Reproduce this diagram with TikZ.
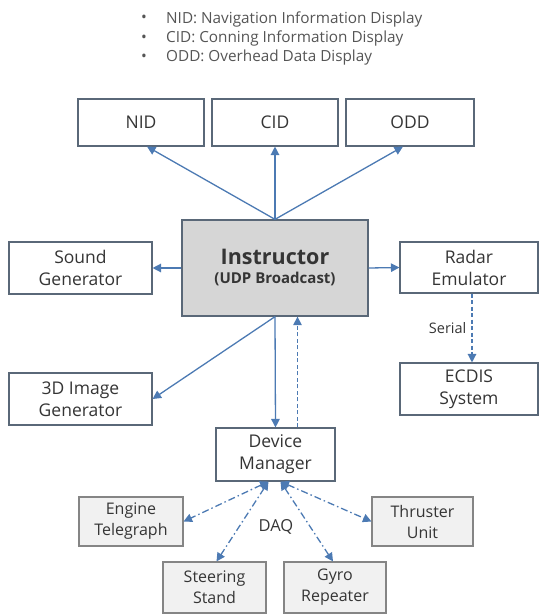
\documentclass[tikz,border=0pt]{standalone}
\usepackage{fontspec}
\setmainfont{Open Sans}
\usetikzlibrary{arrows.meta,calc}

\definecolor{edge}{HTML}{5A6878}
\definecolor{link}{HTML}{4C7AB3}
\definecolor{ink}{HTML}{353535}
\definecolor{note}{HTML}{555555}
\definecolor{hub}{HTML}{D6D6D6}
\definecolor{dev}{HTML}{F1F1F1}
\definecolor{devedge}{HTML}{858585}

\tikzset{
  unit/.style={draw=edge, line width=1.1pt, fill=white, text=ink, align=center,
    inner sep=0pt, font=\fontsize{17.5}{22}\selectfont},
  hubbox/.style={unit, fill=hub, line width=1.3pt},
  devbox/.style={unit, fill=dev, draw=devedge, font=\fontsize{16}{21}\selectfont},
  flow/.style={draw=link, line width=1.3pt, -{Triangle[length=8.5pt,width=8.5pt]}},
  serialflow/.style={flow, dashed, dash pattern=on 4pt off 2.5pt},
  daq/.style={draw=link, line width=1.3pt, {Triangle[length=8.5pt,width=8.5pt]}-{Triangle[length=8.5pt,width=8.5pt]},
    dash pattern=on 7pt off 3pt on 1.5pt off 3pt},
  legend/.style={anchor=west, text=note, inner sep=0pt, font=\fontsize{15.3}{17}\selectfont},
  lbl/.style={text=ink, inner sep=0pt}
}

\begin{document}
\begin{tikzpicture}[x=1pt, y=-1pt]
\useasboundingbox (0,0) rectangle (539,614);

% abbreviations
\node[legend] (b1) at (141,19) {•};
\node[legend] (b2) at (141,38.5) {•};
\node[legend] (b3) at (141,58) {•};
\node[legend] (l1) at (166,19) {NID: Navigation Information Display};
\node[legend] (l2) at (166,38.5) {CID: Conning Information Display};
\node[legend] (l3) at (166,58) {ODD: Overhead Data Display};

% display units
\node[unit, minimum width=126, minimum height=47] (NID) at (141,122.5) {NID};
\node[unit, minimum width=126, minimum height=47] (CID) at (275,122.5) {CID};
\node[unit, minimum width=128, minimum height=47] (ODD) at (410,122.5) {ODD};

% central station
\node[hubbox, minimum width=186, minimum height=96] (Instr) at (275,268)
  {{\fontsize{21.5}{25}\selectfont\bfseries Instructor}\\[-3pt]{\fontsize{15}{18}\selectfont\bfseries (UDP Broadcast)}};

% side units
\node[unit, minimum width=143, minimum height=52] (Sound) at (80.5,268) {Sound\\Generator};
\node[unit, minimum width=138, minimum height=51] (Radar) at (469,267.5) {Radar\\Emulator};
\node[unit, minimum width=138, minimum height=52] (ECDIS) at (469,389) {ECDIS\\System};
\node[unit, minimum width=143, minimum height=52] (Img) at (80.5,399) {3D Image\\Generator};
\node[unit, minimum width=119, minimum height=53] (DM) at (275.5,454.5) {Device\\Manager};

% bridge hardware
\node[devbox, minimum width=104, minimum height=49] (Eng) at (131,521.5) {Engine\\Telegraph};
\node[devbox, minimum width=101, minimum height=49] (Thr) at (422.5,521.5) {Thruster\\Unit};
\node[devbox, minimum width=103, minimum height=51] (Steer) at (214.5,587.5) {Steering\\Stand};
\node[devbox, minimum width=102, minimum height=51] (Gyro) at (335,587.5) {Gyro\\Repeater};

% broadcast links
\draw[flow] (Instr.north) -- ([xshift=6pt]NID.south);
\draw[flow] (Instr.north) -- (CID.south);
\draw[flow] (Instr.north) -- ([xshift=-7pt]ODD.south);
\draw[flow] (Instr.west) -- (Sound.east);
\draw[flow] (Instr.east) -- (Radar.west);
\draw[flow] (Instr.south) -- (Img.east);
\draw[flow] (Instr.south) -- (DM.north);
\draw[serialflow] ([xshift=22pt]DM.north) -- ([xshift=22pt]DM.north |- Instr.south);
\draw[serialflow] ([xshift=3pt]Radar.south) -- node[lbl, left=5pt, font=\fontsize{14.5}{16}\selectfont] (ser) {Serial} ([xshift=3pt]ECDIS.north);

% data acquisition links
\coordinate (dl) at ([xshift=-7pt]DM.south);
\coordinate (dr) at ([xshift=5pt]DM.south);
\draw[daq] (dl) -- (Eng.east);
\draw[daq] (dl) -- ([xshift=2pt]Steer.north);
\draw[daq] (dr) -- ([xshift=-2pt]Gyro.north);
\draw[daq] (dr) -- (Thr.west);
\node[lbl, font=\fontsize{16.5}{18}\selectfont] (daqlbl) at (276,527) {DAQ};
\end{tikzpicture}
\end{document}
